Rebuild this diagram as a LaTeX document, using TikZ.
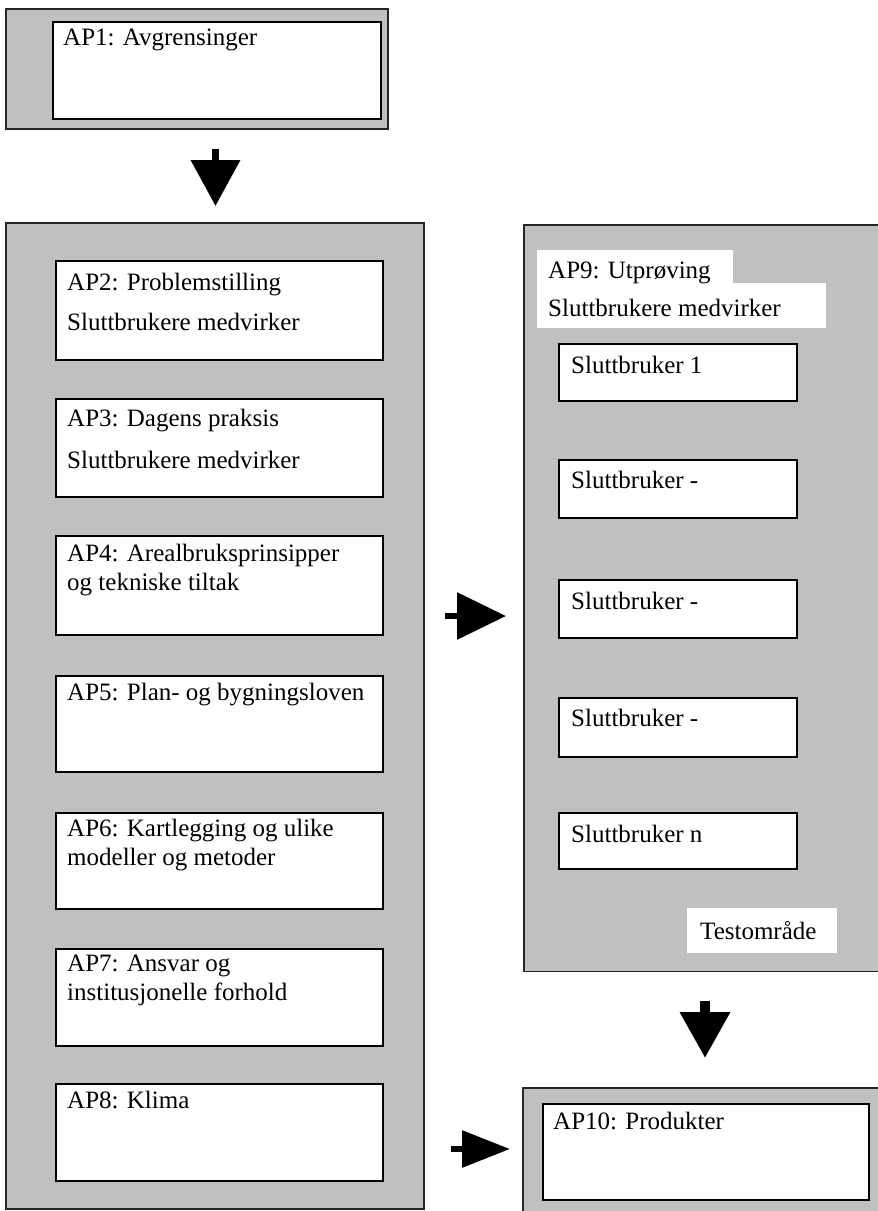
\documentclass[tikz,border=0pt]{standalone}
\usepackage{fontspec}
\setmainfont{Liberation Serif}
\usetikzlibrary{arrows.meta}
\definecolor{panelgray}{RGB}{192,192,192}
\tikzset{
  panel/.style={fill=panelgray, draw=black!85, line width=1.5pt, anchor=north west, inner sep=0pt},
  panelfill/.style={fill=panelgray, draw=none, anchor=north west, inner sep=0pt},
  panelline/.style={draw=black!85, line width=1.5pt},
  wbox/.style={fill=white, draw=black, line width=1.8pt, anchor=north west, inner sep=0pt},
  wlabel/.style={fill=white, draw=none, anchor=north west, inner sep=0pt},
  txt/.style={anchor=base west, inner sep=0pt, font=\fontsize{25}{29}\selectfont, align=left},
  blockarrow/.style={draw=black, line cap=butt}
}
\newcommand{\bx}[5]{\node[#1, minimum width=#4pt, minimum height=#5pt] (#2) at #3 {};}
\begin{document}
\begin{tikzpicture}[x=1pt,y=-1pt]
\useasboundingbox (0,0) rectangle (878,1211);
% AP1
\bx{panel}{p1}{(5,8)}{382}{120}
\bx{wbox}{b1}{(52,21)}{328}{97}
\node[txt] (t1) at (63,45) {AP1: Avgrensinger};
% left panel
\bx{panel}{pL}{(5,222)}{418}{986}
\bx{wbox}{b2}{(55,260)}{327}{99}
\node[txt] (t2) at (67,290) {AP2: Problemstilling};
\node[txt] (s2) at (67,330) {Sluttbrukere medvirker};
\bx{wbox}{b3}{(55,398)}{327}{98}
\node[txt] (t3) at (67,426) {AP3: Dagens praksis};
\node[txt] (s3) at (67,468) {Sluttbrukere medvirker};
\bx{wbox}{b4}{(55,535)}{327}{99}
\node[txt] (t4) at (67,561) {AP4: Arealbruksprinsipper};
\node[txt] (s4) at (67,590) {og tekniske tiltak};
\bx{wbox}{b5}{(55,675)}{327}{96}
\node[txt] (t5) at (67,700) {AP5: Plan- og bygningsloven};
\bx{wbox}{b6}{(55,812)}{327}{96}
\node[txt] (t6) at (67,836) {AP6: Kartlegging og ulike};
\node[txt] (s6) at (67,865) {modeller og metoder};
\bx{wbox}{b7}{(55,948)}{327}{97}
\node[txt] (t7) at (67,971) {AP7: Ansvar og};
\node[txt] (s7) at (67,1000) {institusjonelle forhold};
\bx{wbox}{b8}{(55,1083)}{327}{97}
\node[txt] (t8) at (67,1108) {AP8: Klima};
% right panel
\bx{panelfill}{pR}{(524,225)}{354}{746}
\draw[panelline] (pR.north east) -- (pR.north west) -- (pR.south west) -- (pR.south east);
\bx{wlabel}{l9a}{(537,250)}{196}{34}
\bx{wlabel}{l9b}{(537,283)}{289}{45}
\node[txt] (t9) at (548,278) {AP9: Utprøving};
\node[txt] (s9) at (548,316) {Sluttbrukere medvirker};
\bx{wbox}{u1}{(558,343)}{238}{57}
\node[txt] (tu1) at (571,373) {Sluttbruker 1};
\bx{wbox}{u2}{(558,459)}{238}{58}
\node[txt] (tu2) at (571,488) {Sluttbruker -};
\bx{wbox}{u3}{(558,579)}{238}{58}
\node[txt] (tu3) at (571,609) {Sluttbruker -};
\bx{wbox}{u4}{(558,697)}{238}{59}
\node[txt] (tu4) at (571,726) {Sluttbruker -};
\bx{wbox}{u5}{(558,812)}{238}{56}
\node[txt] (tu5) at (571,842) {Sluttbruker n};
\bx{wlabel}{lt}{(687,908)}{150}{45}
\node[txt] (tt) at (700,939) {Testområde};
% AP10
\bx{panelfill}{p10}{(523,1088)}{355}{123}
\draw[panelline] (p10.north east) -- (p10.north west) -- (p10.south west);
\bx{wbox}{b10}{(542,1103)}{326}{96}
\node[txt] (t10) at (553,1129) {AP10: Produkter};
% arrows
\coordinate (a1s) at (215.5,149);
\coordinate (a1e) at (215.5,206);
\draw[blockarrow, line width=7pt, -{Triangle[width=48pt,length=46pt]}] (a1s) -- (a1e);
\coordinate (a2s) at (445,616);
\coordinate (a2e) at (506,616);
\draw[blockarrow, line width=6pt, -{Triangle[width=46pt,length=49pt]}] (a2s) -- (a2e);
\coordinate (a3s) at (451,1149);
\coordinate (a3e) at (510,1149);
\draw[blockarrow, line width=6pt, -{Triangle[width=36pt,length=48pt]}] (a3s) -- (a3e);
\coordinate (a4s) at (705,1001);
\coordinate (a4e) at (705,1058);
\draw[blockarrow, line width=10pt, -{Triangle[width=48pt,length=46pt]}] (a4s) -- (a4e);
\end{tikzpicture}
\end{document}
